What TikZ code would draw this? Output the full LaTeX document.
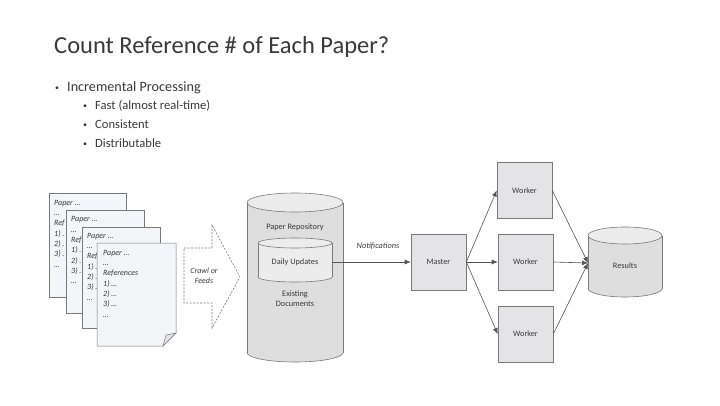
\documentclass[tikz,border=0pt]{standalone}
\usepackage{fontspec}
\setmainfont{Carlito}
\usetikzlibrary{arrows.meta}
\definecolor{txt}{HTML}{3A3A3A}
\definecolor{edge}{HTML}{7A7A7A}
\definecolor{boxfill}{HTML}{E4E4E6}
\definecolor{cylbody}{HTML}{DEDEDE}
\definecolor{cyltop}{HTML}{ECECEC}
\definecolor{pagefill}{HTML}{F4F5F8}
\definecolor{arr}{HTML}{555555}
\newcommand\mycyl[6]{% cx, rx, ytopc, ybotc, ry, bodycolor
  \filldraw[draw=edge,fill=#6,line width=0.6pt] (#1,#4) ellipse [x radius=#2,y radius=#5];
  \fill[#6] (#1-#2,#3) rectangle (#1+#2,#4);
  \draw[edge,line width=0.6pt] (#1-#2,#3) -- (#1-#2,#4) (#1+#2,#3) -- (#1+#2,#4);
  \filldraw[draw=edge,fill=cyltop,line width=0.6pt] (#1,#3) ellipse [x radius=#2,y radius=#5];
}
\newcommand\smbul{{\fontsize{8}{8}\selectfont\raisebox{0.5pt}{•}}}
\begin{document}
\begin{tikzpicture}[x=1pt,y=-1pt,
  box/.style={draw=edge,fill=boxfill,line width=0.6pt,minimum width=55pt,minimum height=56pt,inner sep=0pt,font=\fontsize{8.2}{9}\selectfont,text=txt},
  pagebox/.style={draw=edge,fill=pagefill,line width=0.5pt,inner sep=0pt},
  pagetext/.style={anchor=north west,align=left,inner sep=0pt,font=\fontsize{8}{10.3}\selectfont\itshape,text=txt},
  lbl/.style={font=\fontsize{8.3}{10}\selectfont,text=txt,align=center,inner sep=0pt},
  conn/.style={draw=arr,line width=0.6pt,-{Latex[length=6pt,width=5pt]}},
]
\useasboundingbox[fill=white] (0,0) rectangle (720,405);

% title and bullets
\node[anchor=base west,inner sep=0pt,text=txt,font=\fontsize{24.5}{28}\selectfont] (title) at (54,53) {Count Reference \# of Each Paper?};
\node[anchor=base west,inner sep=0pt,text=txt,font=\fontsize{14.2}{16}\selectfont] (b1) at (55,91) {\smbul\hspace{8pt}Incremental Processing};
\node[anchor=base west,inner sep=0pt,text=txt,font=\fontsize{12.6}{15}\selectfont] (b2) at (83,109) {\smbul\hspace{8pt}Fast (almost real-time)};
\node[anchor=base west,inner sep=0pt,text=txt,font=\fontsize{12.6}{15}\selectfont] (b3) at (83,128) {\smbul\hspace{8pt}Consistent};
\node[anchor=base west,inner sep=0pt,text=txt,font=\fontsize{12.6}{15}\selectfont] (b4) at (83,147) {\smbul\hspace{8pt}Distributable};

% pages
\node[pagebox,minimum width=77pt,minimum height=104pt] (p1) at (88,245) {};
\node[pagetext] (t1) at (54,200) {Paper \ldots\\\ldots\\Ref\\1) .\\2) .\\3) .\\\ldots};
\node[pagebox,minimum width=78pt,minimum height=103pt] (p2) at (105,261.5) {};
\node[pagetext] (t2) at (71,216.5) {Paper \ldots\\\ldots\\Ref\\1) .\\2) .\\3) .\\\ldots};
\node[pagebox,minimum width=78pt,minimum height=101pt] (p3) at (121,277.5) {};
\node[pagetext] (t3) at (87,233) {Paper \ldots\\\ldots\\Ref\\1) .\\2) .\\3) .\\\ldots};
\filldraw[draw=edge,fill=pagefill,line width=0.5pt] (97,243) -- (176,243) -- (176,333) -- (163,346) -- (97,346) -- cycle;
\filldraw[draw=edge,fill=boxfill,line width=0.5pt] (176,333) -- (166,335) -- (163,346) -- cycle;
\node[pagetext] (t4) at (103,250) {Paper \ldots\\\ldots\\References\\1) \ldots\\2) \ldots\\3) \ldots\\\ldots};

% crawl arrow
\draw[edge,dash pattern=on 2pt off 1.5pt,line width=0.6pt] (184,248) -- (212,248) -- (212,225) -- (240,277) -- (212,328) -- (212,303) -- (184,303) -- cycle;
\node[lbl,font=\fontsize{8}{10}\selectfont\itshape] (crawl) at (204,276) {Crawl or\\Feeds};

% repository cylinder
\mycyl{295}{48}{202.5}{352.5}{9.5}{cylbody}
\node[lbl] (repo) at (295,227) {Paper Repository};
\mycyl{295}{37}{243}{277}{5}{cyltop}
\node[lbl,minimum width=74pt,minimum height=34pt] (daily) at (295,262) {Daily Updates};
\node[lbl] (exist) at (295,299) {Existing\\Documents};

% master and workers
\node[box] (master) at (438.5,262) {Master};
\node[box] (w1) at (524.5,190.5) {Worker};
\node[box] (w2) at (525.5,262) {Worker};
\node[box] (w3) at (525.5,334) {Worker};

% results
\mycyl{625}{37}{235.5}{288.5}{8.5}{cylbody}
\node[lbl,minimum width=74pt,minimum height=60pt] (results) at (625,266) {Results};
\coordinate (rin) at (588,263);

% connectors
\draw[conn] (daily.east) -- (master.west |- daily.east);
\node[lbl,font=\fontsize{8.3}{10}\selectfont\itshape] (notif) at (378,246) {Notifications};
\draw[conn] (master.east) -- (w1.west);
\draw[conn] (master.east) -- (w2.west);
\draw[conn] (master.east) -- (w3.west);
\draw[conn] (w1.east) -- (rin);
\draw[conn] (w2.east) -- (rin);
\draw[conn] (w3.east) -- (rin);
\end{tikzpicture}
\end{document}
